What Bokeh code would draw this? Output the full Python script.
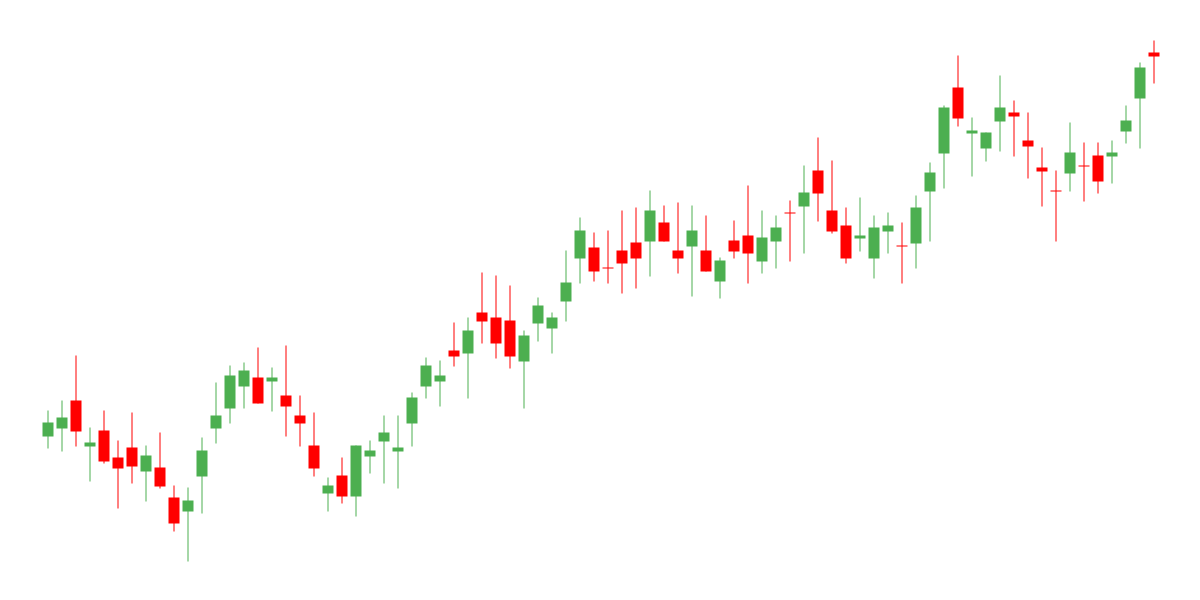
from bokeh.plotting import figure
from bokeh.models import ColumnDataSource, Range1d
from bokeh.embed import file_html
from bokeh.resources import INLINE

opens = [164, 172, 200, 154, 170, 143, 153, 129, 133, 103,
         89, 124, 172, 192, 214, 223, 219, 205, 185, 155,
         107, 125, 104, 144, 159, 149, 177, 214, 219, 250,
         247, 288, 283, 280, 239, 277, 272, 299, 342, 353,
         333, 350, 358, 359, 378, 350, 354, 350, 319, 360,
         365, 339, 359, 388, 394, 430, 390, 375, 362, 342,
         369, 355, 357, 409, 447, 513, 467, 452, 479, 488,
         460, 433, 410, 427, 435, 445, 444, 469, 502, 548]
highs = [190, 200, 245, 173, 190, 160, 188, 155, 168, 115,
         113, 163, 218, 235, 238, 253, 233, 255, 205, 188,
         123, 143, 155, 160, 185, 185, 208, 243, 240, 278,
         283, 328, 325, 315, 270, 303, 288, 350, 383, 368,
         370, 390, 393, 410, 395, 398, 395, 385, 343, 380,
         415, 390, 385, 400, 435, 463, 440, 393, 403, 385,
         388, 378, 405, 438, 495, 545, 483, 468, 525, 500,
         488, 453, 430, 478, 458, 458, 460, 495, 538, 560]
lows = [152, 149, 154, 119, 137, 92, 117, 99, 112, 69,
        39, 87, 157, 177, 192, 197, 189, 164, 154, 124,
        89, 97, 84, 127, 117, 112, 154, 202, 194, 234,
        202, 257, 242, 232, 192, 259, 247, 279, 317, 319,
        317, 307, 312, 324, 359, 327, 304, 329, 302, 342,
        317, 327, 332, 339, 347, 379, 367, 337, 349, 322,
        347, 317, 332, 359, 412, 474, 424, 439, 449, 444,
        422, 394, 359, 409, 399, 407, 417, 457, 452, 517]
closes = [178, 183, 169, 158, 139, 132, 134, 145, 114, 77,
          100, 150, 185, 225, 230, 197, 223, 194, 177, 132,
          115, 104, 155, 150, 168, 153, 203, 235, 225, 244,
          270, 279, 257, 244, 265, 295, 283, 318, 370, 329,
          332, 337, 342, 390, 359, 342, 370, 329, 340, 349,
          347, 363, 373, 387, 408, 407, 369, 342, 365, 373,
          375, 354, 393, 428, 493, 482, 470, 468, 493, 484,
          454, 429, 409, 448, 434, 419, 448, 480, 533, 544]

UP = "#4CAF50"
DOWN = "#FF0000"

idx = list(range(len(opens)))
colors = [UP if c >= o else DOWN for o, c in zip(opens, closes)]
tops = [max(o, c) for o, c in zip(opens, closes)]
bottoms = [min(o, c) for o, c in zip(opens, closes)]

src = ColumnDataSource(dict(x=idx, open=opens, high=highs, low=lows, close=closes,
                            top=tops, bottom=bottoms, color=colors))

W, H = 1184, 584
step = 14.0
x0 = -47.5 / step
x1 = x0 + W / step

p = figure(width=W, height=H, output_backend="svg", toolbar_location=None,
           x_range=Range1d(x0, x1), y_range=Range1d(600 - H, 600),
           min_border=0, min_border_left=0, min_border_right=0,
           min_border_top=0, min_border_bottom=0)
p.outline_line_color = None
p.xaxis.visible = False
p.yaxis.visible = False
p.xgrid.visible = False
p.ygrid.visible = False
p.background_fill_color = "white"
p.border_fill_color = "white"

p.segment(x0="x", y0="high", x1="x", y1="low", source=src, line_color="color", line_width=1)
p.vbar(x="x", width=11 / step, top="top", bottom="bottom", source=src,
       fill_color="color", line_color=None)

open("out.html", "w").write(file_html(p, INLINE))
